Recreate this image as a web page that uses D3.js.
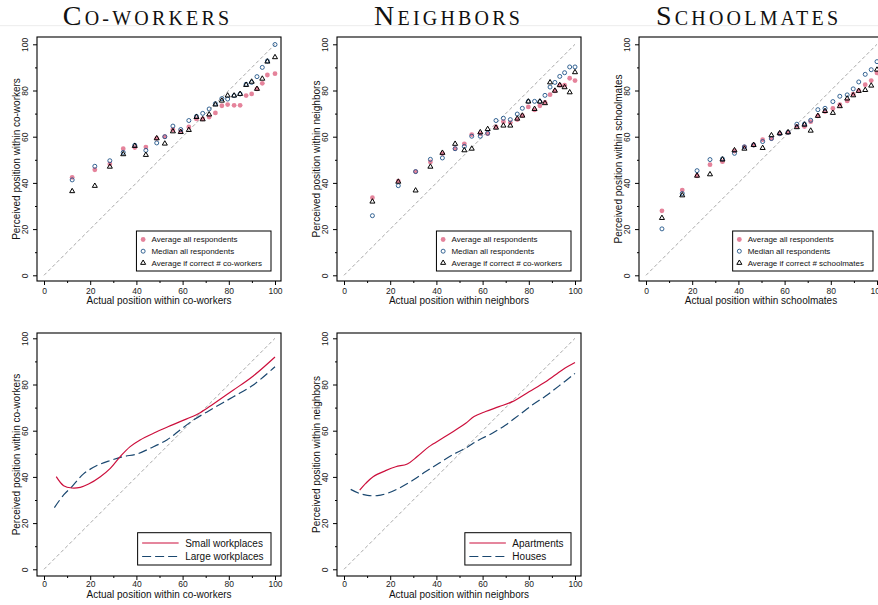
<!DOCTYPE html>
<html><head><meta charset="utf-8">
<script src="https://cdn.jsdelivr.net/npm/d3@7"></script>
<style>body{margin:0;background:#fff} svg{display:block}</style>
</head><body>
<svg id="c" width="878" height="605"></svg>
<script>
// ---- Co-workers: perceived vs actual position ----
const coworkersX = [12.2, 22.0, 28.5, 34.3, 39.3, 44.1, 48.8, 52.3, 55.8, 59.2, 62.7, 66.0, 68.7, 71.5, 74.2, 77.0, 79.5, 82.3, 84.9, 87.5, 89.9, 92.2, 94.5, 96.7, 100];
const coworkersAvg = [42.4, 45.7, 48.2, 54.8, 55.3, 55.5, 59.3, 60.0, 63.0, 62.3, 64.2, 67.7, 67.7, 68.5, 70.3, 73.4, 73.9, 73.6, 73.6, 77.8, 78.5, 80.7, 83.1, 86.7, 87.3];
const coworkersMed = [41.3, 47.2, 49.6, 53.2, 56.3, 54.1, 57.3, 60.0, 64.6, 63.1, 67.0, 68.8, 70.1, 72.0, 74.3, 76.5, 76.3, 77.8, 78.5, 82.7, 83.5, 86.0, 90.0, 92.8, 99.9];
const coworkersCorrect = [36.4, 38.7, 47.0, 52.4, 56.0, 52.1, 59.3, 57.0, 62.3, 62.0, 62.9, 68.5, 67.5, 69.6, 73.9, 75.6, 77.8, 77.8, 78.5, 82.4, 83.8, 80.7, 85.1, 92.5, 94.4];

// ---- Neighbors ----
const neighborsX = [12.3, 23.5, 31.0, 37.4, 42.6, 48.1, 52.1, 55.3, 59.0, 62.2, 65.8, 69.0, 72.0, 75.0, 77.2, 79.8, 82.5, 84.8, 87.0, 89.2, 91.3, 93.4, 95.5, 97.7, 100];
const neighborsAvg = [33.6, 40.8, 44.9, 49.1, 52.7, 54.8, 56.9, 60.9, 61.3, 61.3, 64.2, 66.5, 66.1, 67.4, 69.1, 72.9, 71.6, 73.4, 74.9, 78.2, 79.8, 82.3, 82.3, 85.3, 84.3];
const neighborsMed = [25.8, 38.8, 44.9, 50.2, 50.8, 54.8, 55.8, 60.2, 60.2, 61.5, 67.0, 68.0, 67.4, 69.8, 72.3, 75.3, 75.3, 75.2, 77.9, 81.5, 83.5, 86.1, 87.7, 90.2, 90.2];
const neighborsCorrect = [31.9, 40.5, 36.7, 47.0, 53.0, 56.9, 54.1, 54.8, 61.9, 63.3, 63.9, 64.8, 64.8, 67.8, 69.1, 75.2, 72.0, 75.2, 74.5, 83.5, 79.9, 82.3, 81.4, 79.2, 87.9];

// ---- Schoolmates ----
const schoolX = [6.9, 15.7, 22.1, 27.7, 33.1, 38.3, 42.6, 46.6, 50.5, 54.3, 57.9, 61.5, 65.3, 68.6, 71.3, 74.4, 77.5, 80.9, 83.9, 87.1, 89.7, 92.1, 94.9, 97.5, 100];
const schoolAvg = [27.9, 36.9, 43.1, 47.9, 49.2, 53.8, 55.6, 56.4, 58.7, 59.2, 61.3, 61.8, 64.5, 64.4, 66.5, 69.0, 70.9, 72.2, 73.9, 75.5, 78.4, 79.9, 82.5, 84.3, 87.6];
const schoolMed = [20.1, 35.4, 45.3, 50.1, 50.4, 52.8, 55.6, 56.4, 57.9, 59.2, 61.3, 61.9, 65.4, 65.5, 67.1, 71.7, 72.3, 75.2, 77.5, 78.1, 80.7, 83.7, 87.0, 89.0, 92.5];
const schoolCorrect = [24.8, 34.6, 43.1, 43.7, 50.1, 54.1, 54.8, 56.4, 55.1, 60.6, 61.5, 61.9, 64.1, 65.2, 62.6, 69.0, 71.1, 70.3, 73.2, 76.5, 77.9, 79.8, 80.2, 82.1, 89.0];

// ---- Smoothed curves by workplace size / housing type ----
const smallX = [5.3, 8.5, 12.1, 15.7, 19.3, 24.4, 28.7, 33.0, 37.3, 41.6, 47.4, 53.2, 61.8, 67.6, 73.3, 82.0, 90.6, 100];
const smallY = [40.1, 36.2, 35.2, 35.5, 36.9, 40.1, 43.7, 48.8, 53.1, 56.0, 58.9, 61.5, 65.1, 67.8, 71.6, 77.6, 83.7, 91.9];
const largeX = [4.5, 8.5, 12.1, 17.1, 22.9, 28.7, 34.4, 40.2, 46.0, 53.2, 58.9, 64.7, 73.3, 82.0, 90.6, 100];
const largeY = [26.7, 32.2, 35.8, 41.3, 44.9, 47.1, 48.8, 49.9, 52.4, 56.0, 60.3, 64.6, 69.7, 74.7, 79.8, 87.7];
const aptX = [6.8, 9.4, 12.6, 18.0, 22.4, 27.4, 31.7, 36.8, 42.6, 48.3, 52.7, 56.3, 61.3, 67.1, 72.9, 80.1, 87.3, 94.5, 100];
const aptY = [34.3, 37.2, 40.1, 42.7, 44.4, 45.6, 48.8, 53.1, 56.7, 60.3, 63.2, 66.1, 68.3, 70.4, 72.6, 76.9, 81.2, 86.3, 89.5];
const housesX = [2.9, 6.5, 10.1, 14.4, 18.8, 23.8, 29.6, 35.4, 41.1, 46.9, 52.7, 58.4, 64.2, 70.0, 75.8, 81.5, 87.3, 93.1, 100];
const housesY = [34.6, 32.9, 32.0, 31.9, 32.9, 35.1, 38.4, 42.3, 45.9, 49.5, 52.5, 56.0, 58.9, 62.5, 66.8, 71.1, 75.0, 79.4, 84.8];

// ---- Axis ticks and labels ----
const majorTicks = [0, 20, 40, 60, 80, 100];
const minorTicks = [10, 30, 50, 70, 90];
const titles = [["C", "o-workers"], ["N", "eighbors"], ["S", "choolmates"]];
const groupNames = ["co-workers", "neighbors", "schoolmates"];
const pointLegend = ["Average all respondents", "Median all respondents"];
const correctLegend = ["Average if correct # co-workers", "Average if correct # co-workers", "Average if correct # schoolmates"];
const sizeLegend = ["Small workplaces", "Large workplaces"];
const housingLegend = ["Apartments", "Houses"];

const PINK = "#e5839b", BLUE = "#1f5488", RED = "#cc0f3c", NAVY = "#1a476f";
const FONT = "'Liberation Sans', Arial, Helvetica, sans-serif";
const SERIF = "'Liberation Serif', 'Times New Roman', serif";

const svg = d3.select("#c");
svg.append("rect").attr("width", 878).attr("height", 605).attr("fill", "#fff");
svg.append("line").attr("x1", 0).attr("x2", 878).attr("y1", 25.7).attr("y2", 25.7)
  .attr("stroke", "#ececec").attr("stroke-width", 1);

const colLeft = [37, 337, 639];
const titleCenter = [146, 447, 747];
const rows = [
  {top: 37, bottom: 281, y0: 275.3, y100: 44.3, tickDy: 12.5, titleDy: 23},
  {top: 333, bottom: 576, y0: 569.3, y100: 338.3, tickDy: 10.5, titleDy: 22}
];

// small-caps titles
titles.forEach((t, i) => {
  const txt = svg.append("text").attr("x", titleCenter[i] + 1.6).attr("y", 25)
    .attr("text-anchor", "middle").attr("font-family", SERIF).attr("fill", "#111")
    .attr("letter-spacing", "3.2px");
  txt.append("tspan").attr("font-size", 28).text(t[0]);
  txt.append("tspan").attr("font-size", 20).text(t[1].toUpperCase());
});

function panel(ci, ri, group) {
  const L = colLeft[ci], R = L + 244, row = rows[ri];
  const x = d3.scaleLinear().domain([0, 100]).range([L + 7, L + 238]);
  const y = d3.scaleLinear().domain([0, 100]).range([row.y0, row.y100]);
  const g = svg.append("g");

  // diagonal 45-degree reference
  g.append("line").attr("x1", x(0)).attr("y1", y(0)).attr("x2", x(100)).attr("y2", y(100))
    .attr("stroke", "#a8a8a8").attr("stroke-width", 1).attr("stroke-dasharray", "3.5,2.5");

  // x axis
  const xa = g.append("g").attr("transform", `translate(0,${row.bottom})`)
    .call(d3.axisBottom(x).tickValues(majorTicks).tickSize(4).tickFormat(d3.format("d")));
  xa.select(".domain").remove();
  xa.selectAll("text").attr("y", row.tickDy).attr("dy", 0).attr("font-size", 8.5)
    .attr("font-family", FONT).attr("fill", "#222");
  const xm = g.append("g").attr("transform", `translate(0,${row.bottom})`)
    .call(d3.axisBottom(x).tickValues(minorTicks).tickSize(2).tickFormat(""));
  xm.select(".domain").remove();

  // y axis
  const ya = g.append("g").attr("transform", `translate(${L},0)`)
    .call(d3.axisLeft(y).tickValues(majorTicks).tickSize(4).tickFormat(d3.format("d")));
  ya.select(".domain").remove();
  ya.selectAll("text").attr("x", 0).attr("dy", 0).attr("text-anchor", "middle")
    .attr("transform", "translate(-8.7,0) rotate(-90)")
    .attr("font-size", 8.5).attr("font-family", FONT).attr("fill", "#222");
  const ym = g.append("g").attr("transform", `translate(${L},0)`)
    .call(d3.axisLeft(y).tickValues(minorTicks).tickSize(2).tickFormat(""));
  ym.select(".domain").remove();
  g.selectAll(".tick line").attr("stroke", "#000");

  // frame
  g.append("rect").attr("x", L).attr("y", row.top).attr("width", 244).attr("height", row.bottom - row.top)
    .attr("fill", "none").attr("stroke", "#000").attr("stroke-width", 1.1);

  // axis titles
  g.append("text").attr("x", (L + R) / 2).attr("y", row.bottom + row.titleDy)
    .attr("text-anchor", "middle").attr("font-size", 10).attr("font-family", FONT).attr("fill", "#111")
    .text("Actual position within " + group);
  g.append("text").attr("transform", `translate(${L - 17},${(row.top + row.bottom) / 2}) rotate(-90)`)
    .attr("text-anchor", "middle").attr("font-size", 10).attr("font-family", FONT).attr("fill", "#111")
    .text("Perceived position within " + group);

  return {g, x, y, L, R, row};
}

const tri = d3.symbol().type(d3.symbolTriangle).size(11);

function scatterPanel(ci, xs, avg, med, cor) {
  const p = panel(ci, 0, groupNames[ci]);
  const {g, x, y} = p;
  const idx = d3.range(xs.length);
  g.append("g").selectAll("circle").data(idx).join("circle")
    .attr("cx", i => x(xs[i])).attr("cy", i => y(avg[i])).attr("r", 2.4).attr("fill", PINK);
  g.append("g").selectAll("circle").data(idx).join("circle")
    .attr("cx", i => x(xs[i])).attr("cy", i => y(med[i])).attr("r", 2.0)
    .attr("fill", "none").attr("stroke", BLUE).attr("stroke-width", 0.9);
  g.append("g").selectAll("path").data(idx).join("path")
    .attr("d", tri).attr("transform", i => `translate(${x(xs[i])},${y(cor[i])})`)
    .attr("fill", "none").attr("stroke", "#000").attr("stroke-width", 1);

  // legend
  const labels = [pointLegend[0], pointLegend[1], correctLegend[ci]];
  const lg = g.append("g");
  const box = lg.append("rect");
  const texts = labels.map((t, k) => lg.append("text").attr("font-size", 8).attr("font-family", FONT)
    .attr("fill", "#111").text(t));
  const w = d3.max(texts, t => t.node().getComputedTextLength()) + 24;
  const bx = p.R - 10 - w, by = p.row.bottom - 10 - 40;
  box.attr("x", bx).attr("y", by).attr("width", w).attr("height", 40)
    .attr("fill", "#fff").attr("stroke", "#000").attr("stroke-width", 1);
  texts.forEach((t, k) => t.attr("x", bx + 15).attr("y", by + 8.5 + k * 11.7 + 2.9));
  lg.append("circle").attr("cx", bx + 6.7).attr("cy", by + 8.5).attr("r", 2.4).attr("fill", PINK);
  lg.append("circle").attr("cx", bx + 6.7).attr("cy", by + 20.2).attr("r", 2.0)
    .attr("fill", "none").attr("stroke", BLUE).attr("stroke-width", 0.9);
  lg.append("path").attr("d", tri).attr("transform", `translate(${bx + 6.7},${by + 31.9})`)
    .attr("fill", "none").attr("stroke", "#000").attr("stroke-width", 1);
}

function curvePanel(ci, xa, ya, xb, yb, labels) {
  const p = panel(ci, 1, groupNames[ci]);
  const {g, x, y} = p;
  const line = d3.line().curve(d3.curveCatmullRom.alpha(0.5));
  g.append("path").attr("d", line(xb.map((v, i) => [x(v), y(yb[i])])))
    .attr("fill", "none").attr("stroke", NAVY).attr("stroke-width", 1.2).attr("stroke-dasharray", "9,4");
  g.append("path").attr("d", line(xa.map((v, i) => [x(v), y(ya[i])])))
    .attr("fill", "none").attr("stroke", RED).attr("stroke-width", 1.2);

  const lg = g.append("g");
  const box = lg.append("rect");
  const texts = labels.map(t => lg.append("text").attr("font-size", 10).attr("font-family", FONT)
    .attr("fill", "#111").text(t));
  const w = d3.max(texts, t => t.node().getComputedTextLength()) + 55;
  const bx = p.R - 10 - w, by = p.row.bottom - 11 - 32.3;
  box.attr("x", bx).attr("y", by).attr("width", w).attr("height", 32.3)
    .attr("fill", "#fff").attr("stroke", "#000").attr("stroke-width", 1);
  texts.forEach((t, k) => t.attr("x", bx + 47.5).attr("y", by + 10.3 + k * 13.5 + 3.6));
  lg.append("line").attr("x1", bx + 4.5).attr("x2", bx + 41).attr("y1", by + 10.3).attr("y2", by + 10.3)
    .attr("stroke", RED).attr("stroke-width", 1.2);
  lg.append("line").attr("x1", bx + 4.5).attr("x2", bx + 41).attr("y1", by + 23.8).attr("y2", by + 23.8)
    .attr("stroke", NAVY).attr("stroke-width", 1.2).attr("stroke-dasharray", "9,4");
}

scatterPanel(0, coworkersX, coworkersAvg, coworkersMed, coworkersCorrect);
scatterPanel(1, neighborsX, neighborsAvg, neighborsMed, neighborsCorrect);
scatterPanel(2, schoolX, schoolAvg, schoolMed, schoolCorrect);
curvePanel(0, smallX, smallY, largeX, largeY, sizeLegend);
curvePanel(1, aptX, aptY, housesX, housesY, housingLegend);
</script>
</body></html>
